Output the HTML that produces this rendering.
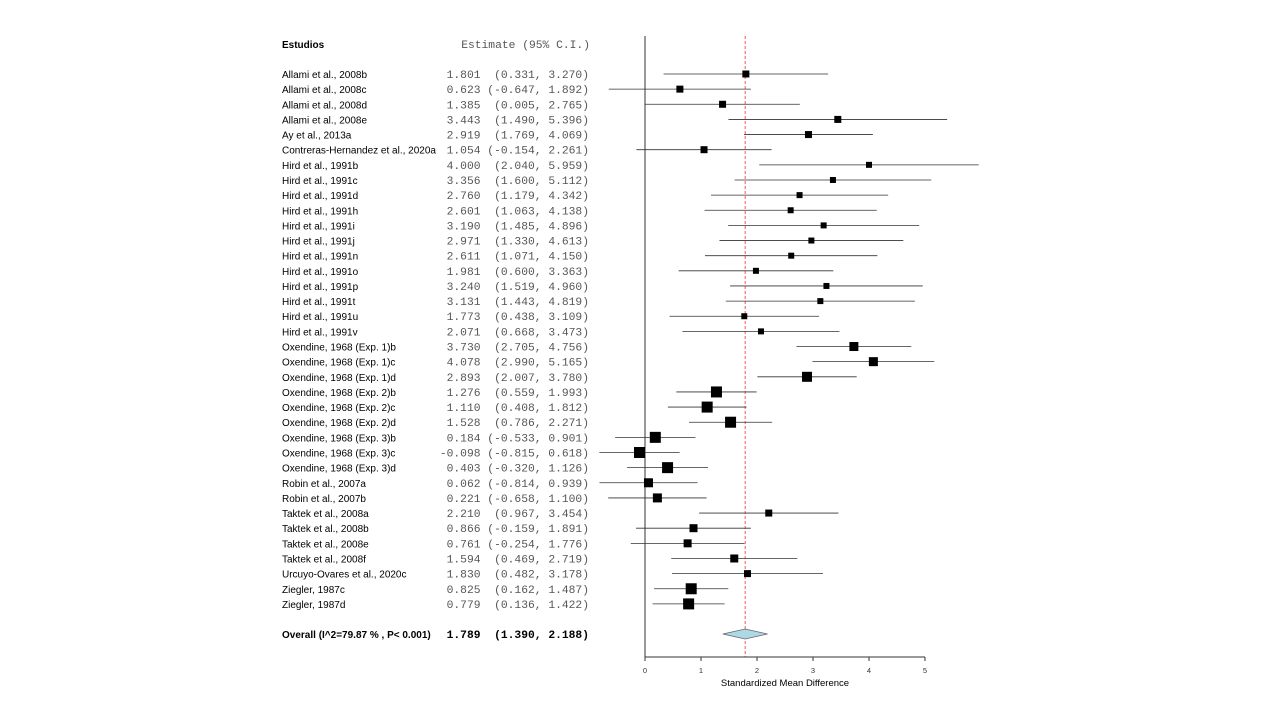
<!DOCTYPE html>
<html><head><meta charset="utf-8"><style>
body{margin:0;background:#fff;width:1280px;height:720px;overflow:hidden}
svg{font-family:"Liberation Sans",Arial,sans-serif}
.m{font-family:"Liberation Mono",monospace;fill:#555;font-size:11.3px;white-space:pre}
</style></head><body>
<svg id="c" width="1280" height="720"></svg>
<script>
const studies=["Allami et al., 2008b","Allami et al., 2008c","Allami et al., 2008d","Allami et al., 2008e","Ay et al., 2013a","Contreras-Hernandez et al., 2020a","Hird et al., 1991b","Hird et al., 1991c","Hird et al., 1991d","Hird et al., 1991h","Hird et al., 1991i","Hird et al., 1991j","Hird et al., 1991n","Hird et al., 1991o","Hird et al., 1991p","Hird et al., 1991t","Hird et al., 1991u","Hird et al., 1991v","Oxendine, 1968 (Exp. 1)b","Oxendine, 1968 (Exp. 1)c","Oxendine, 1968 (Exp. 1)d","Oxendine, 1968 (Exp. 2)b","Oxendine, 1968 (Exp. 2)c","Oxendine, 1968 (Exp. 2)d","Oxendine, 1968 (Exp. 3)b","Oxendine, 1968 (Exp. 3)c","Oxendine, 1968 (Exp. 3)d","Robin et al., 2007a","Robin et al., 2007b","Taktek et al., 2008a","Taktek et al., 2008b","Taktek et al., 2008e","Taktek et al., 2008f","Urcuyo-Ovares et al., 2020c","Ziegler, 1987c","Ziegler, 1987d"];
const est=[1.801,0.623,1.385,3.443,2.919,1.054,4.000,3.356,2.760,2.601,3.190,2.971,2.611,1.981,3.240,3.131,1.773,2.071,3.730,4.078,2.893,1.276,1.110,1.528,0.184,-0.098,0.403,0.062,0.221,2.210,0.866,0.761,1.594,1.830,0.825,0.779];
const lo=[0.331,-0.647,0.005,1.490,1.769,-0.154,2.040,1.600,1.179,1.063,1.485,1.330,1.071,0.600,1.519,1.443,0.438,0.668,2.705,2.990,2.007,0.559,0.408,0.786,-0.533,-0.815,-0.320,-0.814,-0.658,0.967,-0.159,-0.254,0.469,0.482,0.162,0.136];
const hi=[3.270,1.892,2.765,5.396,4.069,2.261,5.959,5.112,4.342,4.138,4.896,4.613,4.150,3.363,4.960,4.819,3.109,3.473,4.756,5.165,3.780,1.993,1.812,2.271,0.901,0.618,1.126,0.939,1.100,3.454,1.891,1.776,2.719,3.178,1.487,1.422];
const weights=[7,7,7,7,7,7,6,6,6,6,6,6,6,6,6,6,6,6,9,9,10,11,11,11,11,11,11,9,9,7,8,8,8,7,11,11];
const overall=[1.789,1.390,2.188];
const ticks=[0,1,2,3,4,5];
const X=v=>645+v*56, Y=i=>74+i*15.14;
const svg=document.getElementById('c'),NS='http://www.w3.org/2000/svg';
function mk(t,a,txt){const e=document.createElementNS(NS,t);for(const k in a)e.setAttribute(k,a[k]);if(txt!=null)e.textContent=txt;svg.appendChild(e);return e;}
const ci=(a,b,c)=>a.toFixed(3)+(b<0?" (":"  (")+b.toFixed(3)+", "+c.toFixed(3)+")";
let e;
e=mk('text',{x:282,y:48,'font-size':10,'font-weight':'bold'},'Estudios');

e=mk('text',{x:590,y:48,class:'m','text-anchor':'end'},'Estimate (95% C.I.)');

e=mk('line',{x1:645,y1:36,x2:645,y2:657,stroke:'#333'});

e=mk('line',{x1:X(overall[0]),y1:36,x2:X(overall[0]),y2:657,stroke:'#f55','stroke-dasharray':'3,2'});

studies.forEach((s,i)=>{const y=Y(i);
 e=mk('text',{x:282,y:y+4,'font-size':10},s);
 
 e=mk('text',{x:589,y:y+4,class:'m','text-anchor':'end'},ci(est[i],lo[i],hi[i]));
 
 e=mk('line',{x1:X(lo[i]),y1:y,x2:X(hi[i]),y2:y,stroke:'#333','stroke-width':0.8});
 
 const w=weights[i];
 e=mk('rect',{x:X(est[i])-w/2,y:y-w/2,width:w,height:w,fill:'#000'});
 
});
const oy=634;
e=mk('text',{x:282,y:oy+4,'font-size':10,'font-weight':'bold'},'Overall (I^2=79.87 % , P< 0.001)');

e=mk('text',{x:589,y:oy+4,class:'m','font-weight':'bold','text-anchor':'end'},ci(overall[0],overall[1],overall[2]));
e.style.fill='#000';

e=mk('polygon',{points:`${X(overall[1])},${oy} ${X(overall[0])},${oy-5} ${X(overall[2])},${oy} ${X(overall[0])},${oy+5}`,fill:'#add8e6',stroke:'#666','stroke-width':0.8});

e=mk('line',{x1:X(0),y1:657,x2:X(5),y2:657,stroke:'#333'});

ticks.forEach(t=>{
 e=mk('line',{x1:X(t),y1:657,x2:X(t),y2:661,stroke:'#333'});
 
 e=mk('text',{x:X(t),y:673,'font-size':7.5,'text-anchor':'middle',fill:'#333'},t);
 
});
e=mk('text',{x:X(2.5),y:686,'font-size':9.5,'text-anchor':'middle'},'Standardized Mean Difference');

</script>
</body></html>
